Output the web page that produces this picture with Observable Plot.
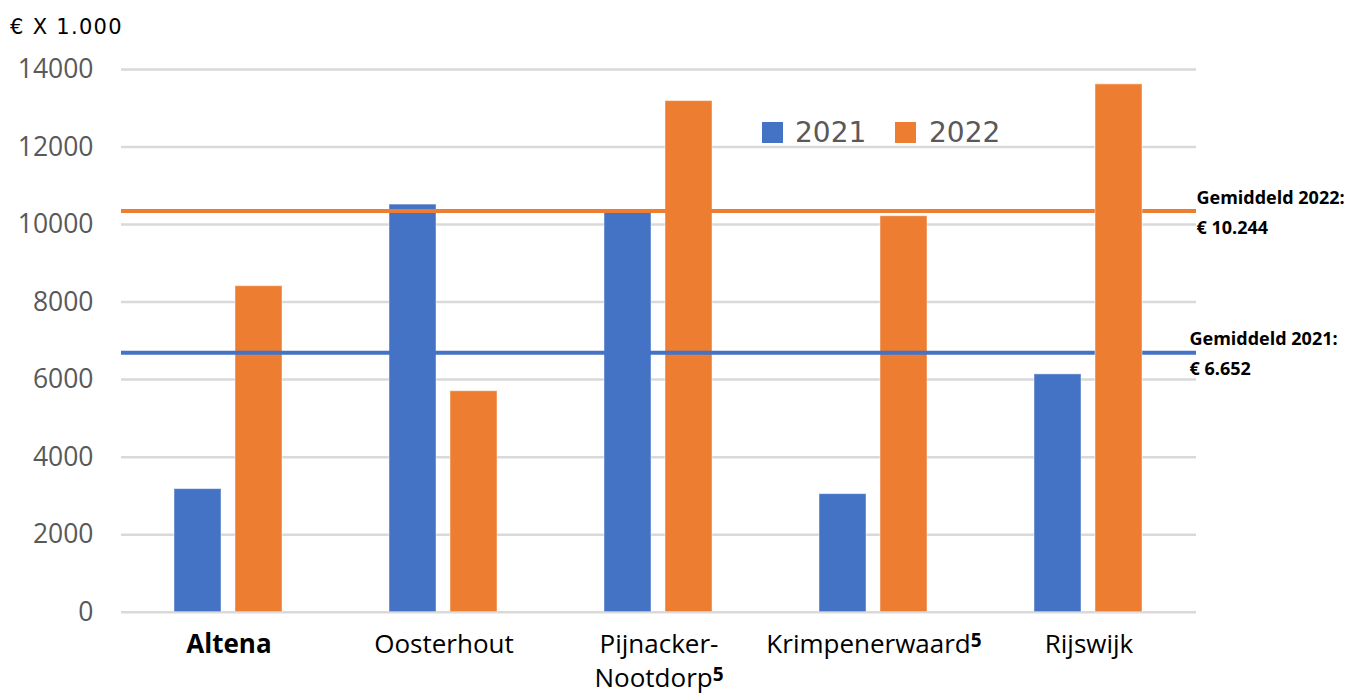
<!DOCTYPE html>
<html>
<head>
<meta charset="utf-8">
<script src="https://cdn.jsdelivr.net/npm/d3@7"></script>
<script src="https://cdn.jsdelivr.net/npm/@observablehq/plot@0.6"></script>
<style>
  html, body { margin: 0; padding: 0; background: #fff; }
  #wrap { position: relative; width: 1350px; height: 696px; overflow: hidden; }
  #title { position: absolute; left: 10px; top: 17px; font: 21px/21px "DejaVu Sans"; letter-spacing: 1.3px; color: #000; white-space: nowrap; }
  .sw { position: absolute; width: 21px; height: 21px; top: 122px; }
  .lg { position: absolute; top: 119px; font: 28px/28px "DejaVu Sans"; color: #595959; white-space: nowrap; }
  #chart { position: absolute; left: 0; top: 0; }
</style>
</head>
<body>
<div id="wrap">
  <div id="chart"></div>
  <div id="title">€ X 1.000</div>
  <div class="sw" style="left:762px;background:#4472C4"></div>
  <div class="lg" style="left:795px">2021</div>
  <div class="sw" style="left:895px;background:#ED7D31"></div>
  <div class="lg" style="left:929px">2022</div>
</div>
<script>
const categories = ["Altena", "Oosterhout", "Pijnacker-\nNootdorp⁵", "Krimpenerwaard⁵", "Rijswijk"];
const years = ["2021", "2022"];
const values2021 = [3175, 10515, 10330, 3045, 6135];
const values2022 = [8410, 5700, 13185, 10215, 13615];
const yTicks = [0, 2000, 4000, 6000, 8000, 10000, 12000, 14000];
const avgLine2021 = 6696;
const avgLine2022 = 10351;
const avgLabel2021 = "Gemiddeld 2021:\n€ 6.652";
const avgLabel2022 = "Gemiddeld 2022:\n€ 10.244";
const colors = ["#4472C4", "#ED7D31"];

const data = [];
categories.forEach((c, i) => {
  data.push({cat: c, year: "2021", value: values2021[i]});
  data.push({cat: c, year: "2022", value: values2022[i]});
});
const lastCat = categories[categories.length - 1];

const barOpts = {fx: "cat", x: "year", y: "value", fill: "year", stroke: "#ffffff", strokeOpacity: 0.45, strokeWidth: 1};

const chart = Plot.plot({
  width: 1350,
  height: 696,
  marginLeft: 120,
  marginRight: 153,
  marginTop: 69,
  marginBottom: 84.3,
  style: {fontFamily: "Open Sans", fontSize: "26.5px", color: "#595959", background: "transparent", overflow: "visible"},
  fx: {domain: categories, padding: 0, axis: null, label: null},
  x: {domain: years, paddingInner: 0.2258, paddingOuter: 0.85, axis: null},
  y: {domain: [0, 14000], ticks: yTicks, tickSize: 0, tickPadding: 28, tickFormat: d => String(d), label: null},
  color: {domain: years, range: colors},
  marks: [
    Plot.ruleY(yTicks, {stroke: "#d9d9d9", strokeWidth: 2.5}),
    Plot.barY(data, barOpts),
    Plot.ruleY([avgLine2022], {stroke: "#ED7D31", strokeWidth: 4}),
    Plot.ruleY([avgLine2021], {stroke: "#4472C4", strokeWidth: 4}),
    Plot.barY(data.filter(d => d.cat === lastCat && d.year === "2022"), barOpts),
    Plot.text(categories.filter(c => c === "Altena"), {fx: d => d, text: d => d, frameAnchor: "bottom", lineAnchor: "top", dy: 16, fontSize: 26, fontWeight: "bold", fill: "#000", lineHeight: 1.33}),
    Plot.text(categories.filter(c => c !== "Altena"), {fx: d => d, text: d => d, frameAnchor: "bottom", lineAnchor: "top", dy: 16, fontSize: 26, fill: "#000", lineHeight: 1.33}),
    Plot.text([{fx: lastCat, y: avgLine2022, text: avgLabel2022}], {fx: "fx", y: "y", text: "text", frameAnchor: "right", textAnchor: "start", lineAnchor: "middle", dx: 0, dy: -2, fontSize: 18, fontWeight: "bold", fill: "#000", lineHeight: 1.67}),
    Plot.text([{fx: lastCat, y: avgLine2021, text: avgLabel2021}], {fx: "fx", y: "y", text: "text", frameAnchor: "right", textAnchor: "start", lineAnchor: "middle", dx: -7, dy: -2, fontSize: 18, fontWeight: "bold", fill: "#000", lineHeight: 1.67})
  ]
});

// render the footnote mark "⁵" as a bold raised 5
const NS = "http://www.w3.org/2000/svg";
chart.querySelectorAll("text").forEach(t => {
  const parts = t.querySelectorAll("tspan").length ? Array.from(t.querySelectorAll("tspan")) : [t];
  parts.forEach(p => {
    if (p.childNodes.length === 1 && p.firstChild.nodeType === 3 && p.textContent.includes("⁵")) {
      p.textContent = p.textContent.replace("⁵", "");
      const s = document.createElementNS(NS, "tspan");
      s.setAttribute("font-weight", "bold");
      s.setAttribute("font-size", "19");
      s.setAttribute("baseline-shift", "6");
      s.textContent = "5";
      p.appendChild(s);
    }
  });
});
document.getElementById("chart").appendChild(chart);
</script>
</body>
</html>
